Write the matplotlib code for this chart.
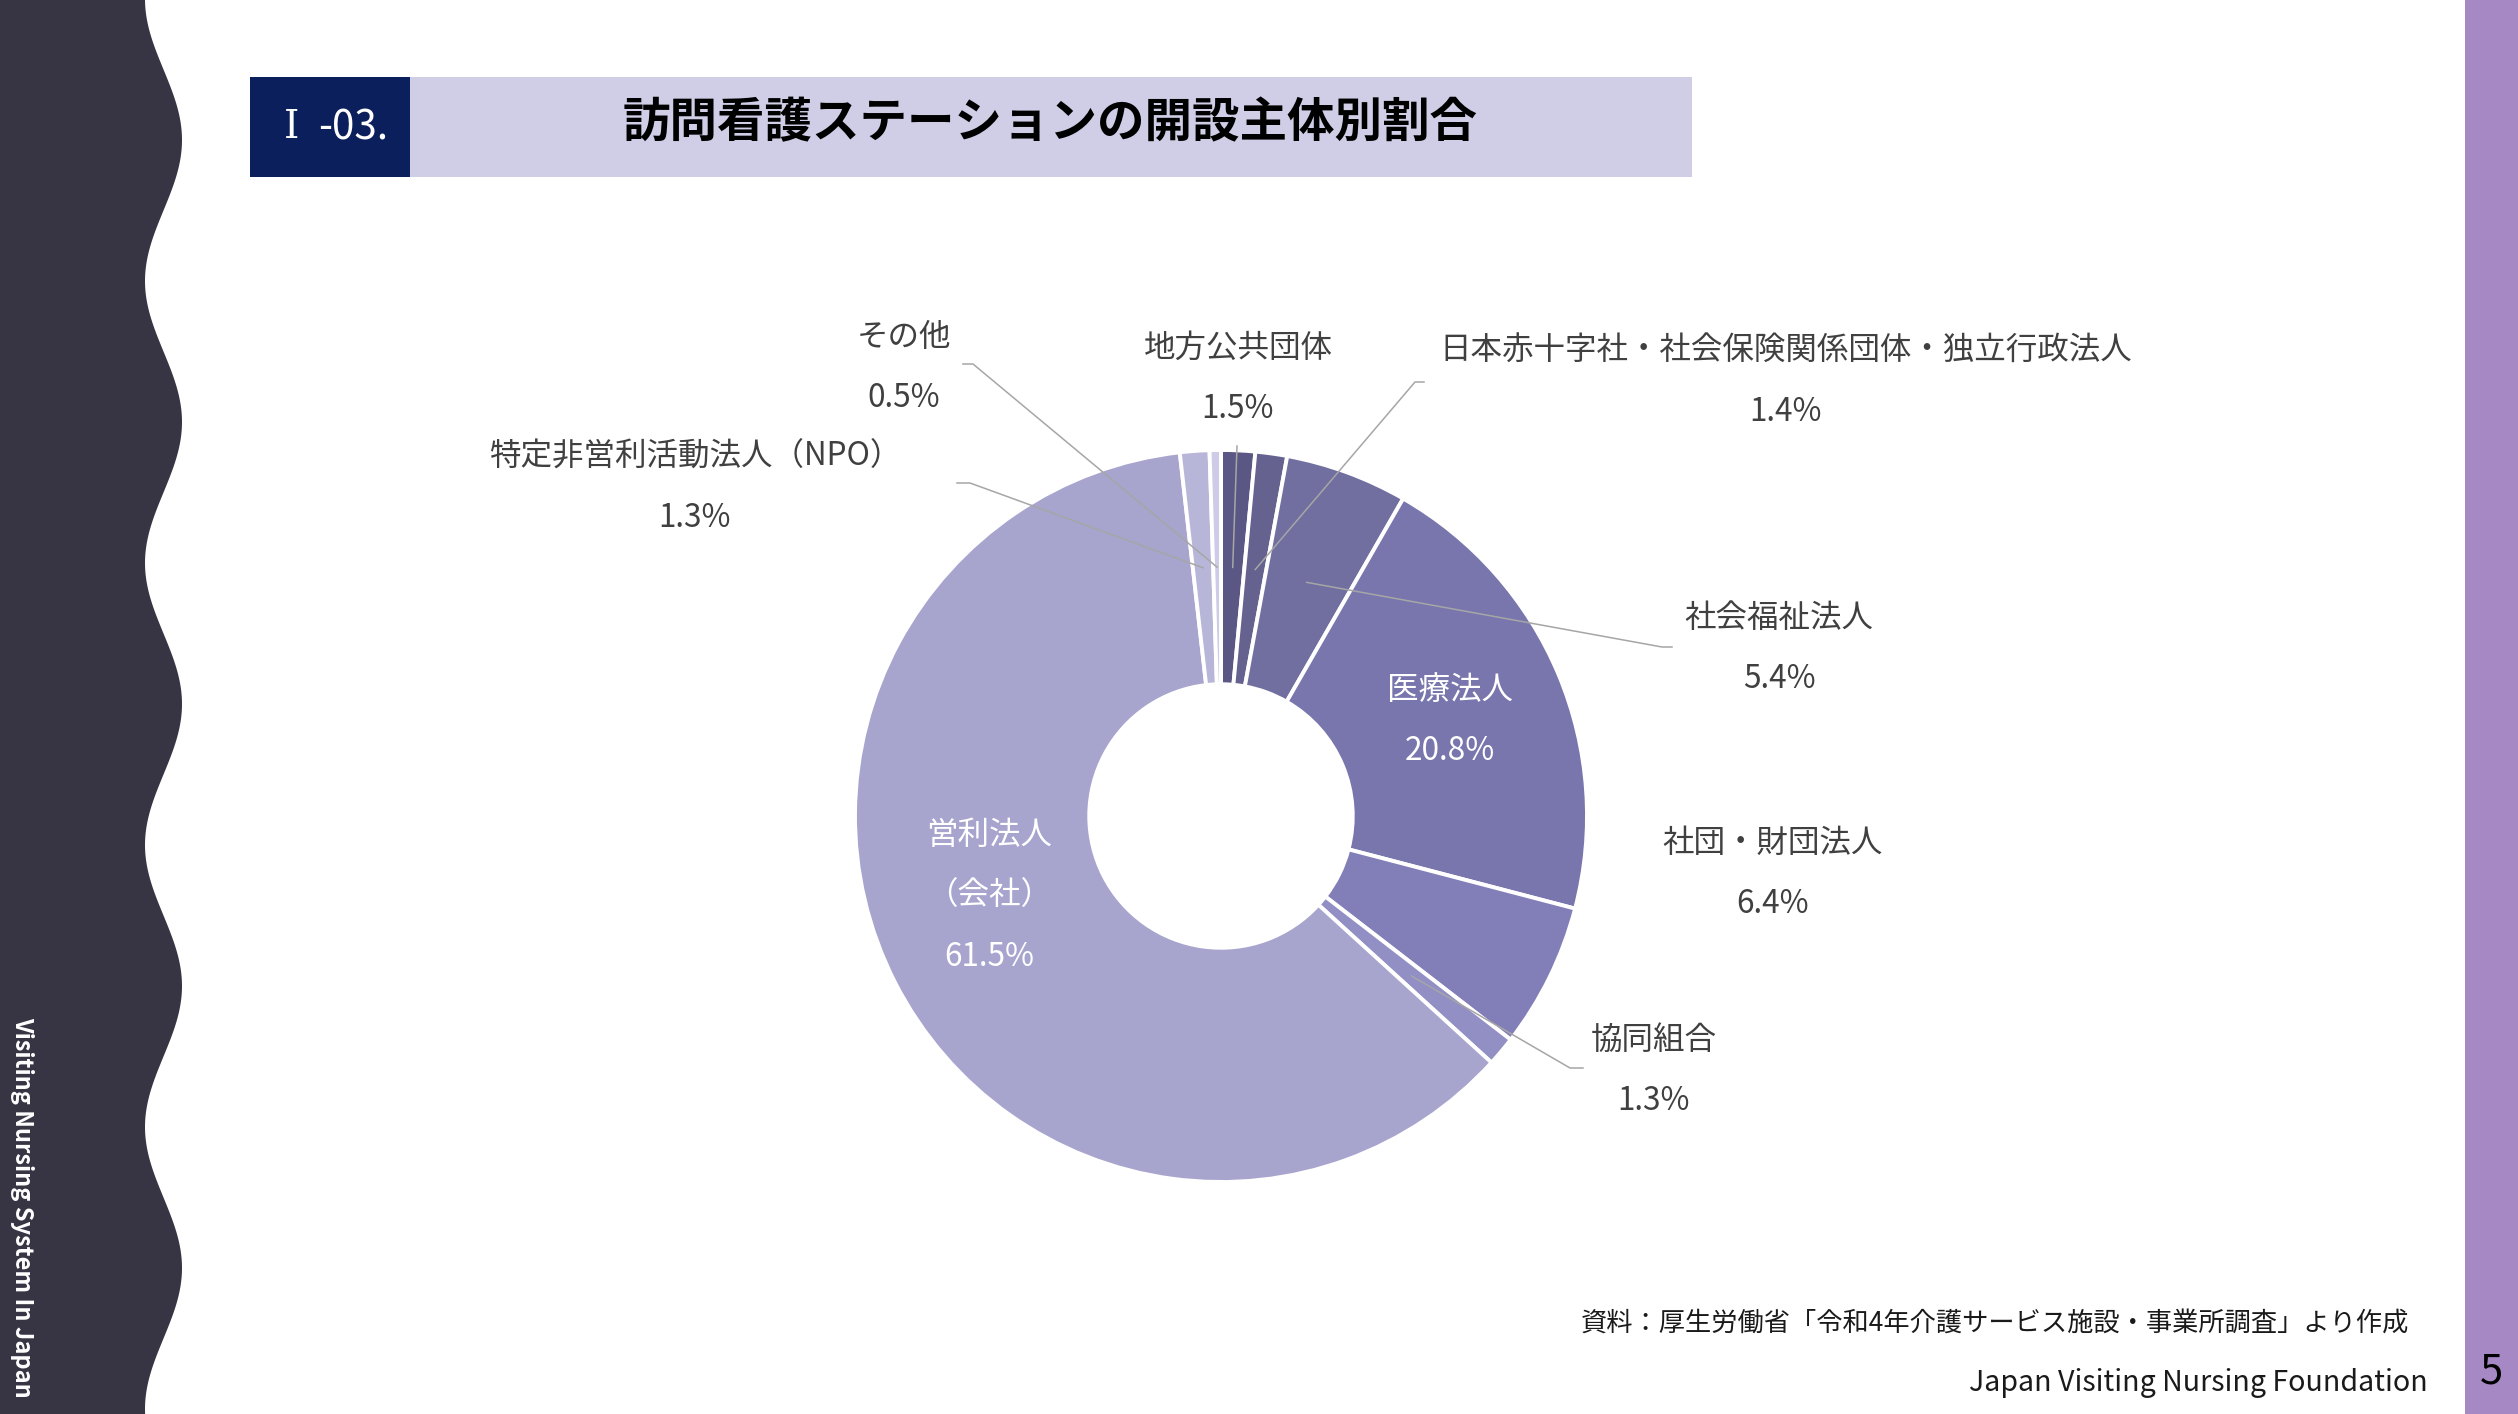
import numpy as np
import matplotlib.pyplot as plt
from matplotlib.patches import Rectangle, Polygon

plt.rcParams['font.family'] = ['Noto Sans CJK JP', 'DejaVu Sans']

W, H = 2518, 1414

# data (clockwise from 12 o'clock)
categories = ['地方公共団体',
              '日本赤十字社・社会保険関係団体・独立行政法人',
              '社会福祉法人',
              '医療法人',
              '社団・財団法人',
              '協同組合',
              '営利法人\n（会社）',
              '特定非営利活動法人（NPO）',
              'その他']
shares = [1.5, 1.4, 5.4, 20.8, 6.4, 1.3, 61.5, 1.3, 0.5]
colors = ['#5a5785', '#65628f', '#716ea0', '#7876ad', '#827fb8',
          '#918fc4', '#a7a4ce', '#b8b6d8', '#cecbe6']

# label layout in pixels (top line centre), leader knee/end points (None = inside label)
label_pos = [(1238, 348), (1786, 351), (1779, 618), (1450, 690), (1773, 843),
             (1654, 1040), (989, 835), (695, 457), (904, 337)]
leader_pts = [[(1237, 446)],
              [(1415, 382), (1424, 382)],
              [(1662, 647), (1672, 647)],
              None,
              None,
              [(1570, 1068), (1583, 1068)],
              None,
              [(970, 483), (957, 483)],
              [(973, 364), (963, 364)]]
inside = [False, False, False, True, False, False, True, False, False]

cx, cy, R = 1221, 816, 366
line_step = 61

fig = plt.figure(figsize=(W / 100, H / 100), dpi=100)

# background decoration
bg = fig.add_axes([0, 0, 1, 1], zorder=0)
bg.set_xlim(0, W)
bg.set_ylim(H, 0)
bg.axis('off')

yy = np.linspace(0, H, 600)
xx = 163.5 + 18.5 * np.cos(2 * np.pi * (yy - 140) / 282)
wave = Polygon([(0, 0)] + list(zip(xx, yy)) + [(0, H)], closed=True,
               facecolor='#373543', edgecolor='none')
bg.add_patch(wave)
bg.add_patch(Rectangle((2465, 0), W - 2465, H, facecolor='#a688c4', edgecolor='none'))
bg.add_patch(Rectangle((250, 77), 160, 100, facecolor='#0b1f5c', edgecolor='none'))
bg.add_patch(Rectangle((410, 77), 1282, 100, facecolor='#d0cee6', edgecolor='none'))

bg.text(292, 127, 'Ⅰ', color='white', fontsize=28, ha='center', va='center',
        family=['DejaVu Serif', 'Noto Sans CJK JP'])
bg.text(353, 128, '-03.', color='white', fontsize=29, ha='center', va='center')
bg.text(1050, 123, '訪問看護ステーションの開設主体別割合', color='black', fontsize=34.2,
        fontweight='bold', ha='center', va='center')
bg.text(22, 1207, 'Visiting Nursing System In Japan', color='white', fontsize=17,
        fontweight='bold', rotation=-90, ha='center', va='center')
bg.text(2409, 1323, '資料：厚生労働省「令和4年介護サービス施設・事業所調査」より作成',
        color='#1a1a1a', fontsize=18.9, ha='right', va='center')
bg.text(2428, 1383, 'Japan Visiting Nursing Foundation', color='#1a1a1a', fontsize=20.6,
        ha='right', va='center')
bg.text(2491, 1372, '5', color='black', fontsize=30, ha='center', va='center')

# donut
ax = fig.add_axes([(cx - R) / W, (H - cy - R) / H, 2 * R / W, 2 * R / H], zorder=1)
wedges, _ = ax.pie(shares, colors=colors, startangle=90, counterclock=False, radius=1,
                   wedgeprops=dict(width=0.64, edgecolor='white', linewidth=2.8))
ax.set_xlim(-1, 1)
ax.set_ylim(-1, 1)
ax.axis('off')

# labels and leader lines
ov = fig.add_axes([0, 0, 1, 1], zorder=2)
ov.set_xlim(0, W)
ov.set_ylim(H, 0)
ov.axis('off')
ov.patch.set_alpha(0)

for w, name, val, pos, pts, ins in zip(wedges, categories, shares, label_pos,
                                       leader_pts, inside):
    mid = np.deg2rad((w.theta1 + w.theta2) / 2)
    col = 'white' if ins else '#404040'
    lines = name.split('\n') + [f'{val:.1f}%']
    for i, t in enumerate(lines):
        ov.text(pos[0], pos[1] + i * line_step, t, color=col, fontsize=22.7,
                ha='center', va='center')
    if pts:
        sx = cx + 0.68 * R * np.cos(mid)
        sy = cy - 0.68 * R * np.sin(mid)
        px = [sx] + [p[0] for p in pts]
        py = [sy] + [p[1] for p in pts]
        ov.plot(px, py, color='#a6a6a6', lw=1.1)

fig.savefig('out.png', dpi=100)
